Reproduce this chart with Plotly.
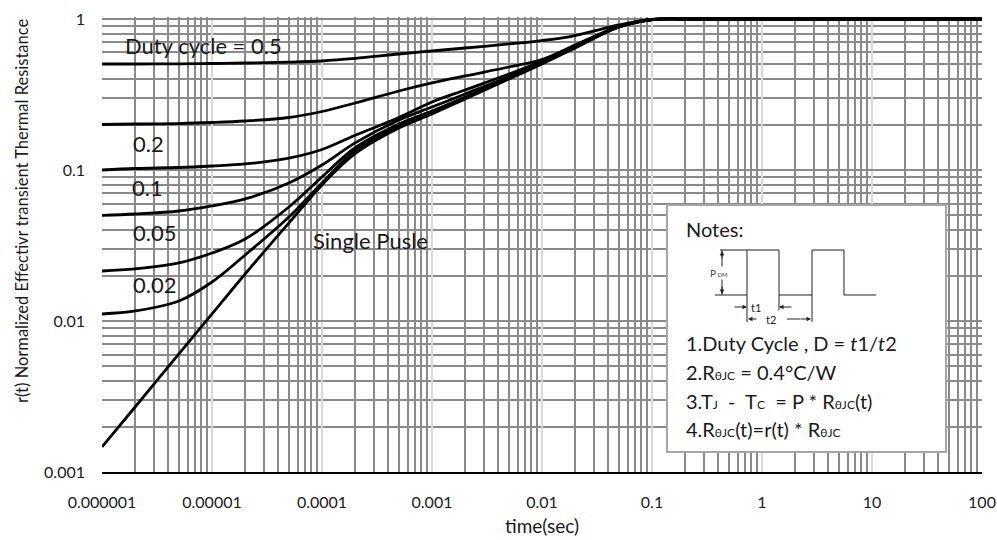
import plotly.graph_objects as go

# ---------------- data ----------------
time_s = [1e-6, 2e-6, 5e-6, 1e-5, 2e-5, 5e-5, 1e-4, 2e-4, 5e-4, 1e-3,
          2e-3, 5e-3, 1e-2, 2e-2, 5e-2, 1e-1, 2e-1, 1, 10, 100]

r_d050 = [0.5035, 0.5035, 0.5050, 0.5074, 0.5113, 0.5176, 0.5271, 0.5477, 0.5864, 0.6139,
          0.6426, 0.6832, 0.7201, 0.7774, 0.9126, 0.9924, 1, 1, 1, 1]
r_d020 = [0.2001, 0.2016, 0.2031, 0.2063, 0.2111, 0.2227, 0.2440, 0.2778, 0.3336, 0.3770,
          0.4195, 0.4809, 0.5393, 0.6728, 0.8920, 0.9924, 1, 1, 1, 1]
r_d010 = [0.1000, 0.1023, 0.1039, 0.1063, 0.1096, 0.1198, 0.1366, 0.1697, 0.2224, 0.2820,
          0.3387, 0.4323, 0.5271, 0.6677, 0.8920, 0.9924, 1, 1, 1, 1]
r_d005 = [0.0500, 0.0511, 0.0535, 0.0578, 0.0643, 0.0820, 0.1079, 0.1512, 0.2143, 0.2614,
          0.3186, 0.4161, 0.5191, 0.6626, 0.8919, 0.9924, 1, 1, 1, 1]
r_d002 = [0.02144, 0.02211, 0.02422, 0.02820, 0.03491, 0.05688, 0.0899, 0.1404, 0.2017, 0.2459,
          0.3044, 0.4067, 0.5113, 0.6525, 0.8850, 0.9924, 1, 1, 1, 1]
r_d001 = [0.01113, 0.01165, 0.01357, 0.01813, 0.02736, 0.04884, 0.0820, 0.1342, 0.1956, 0.2403,
          0.2998, 0.4036, 0.5074, 0.6476, 0.8850, 0.9924, 1, 1, 1, 1]
r_single = [0.001466, 0.002694, 0.00605, 0.01113, 0.02048, 0.04457, 0.0796, 0.1282, 0.1896, 0.2349,
            0.2953, 0.4005, 0.5035, 0.6426, 0.8851, 0.9924, 1, 1, 1, 1]

series = [("D=0.5", r_d050), ("D=0.2", r_d020), ("D=0.1", r_d010),
          ("D=0.05", r_d005), ("D=0.02", r_d002), ("D=0.01", r_d001),
          ("Single Pulse", r_single)]

x_tickvals = [1e-6, 1e-5, 1e-4, 1e-3, 1e-2, 1e-1, 1, 10, 100]
x_ticktext = ["0.000001", "0.00001", "0.0001", "0.001", "0.01", "0.1", "1", "10", "100"]
y_tickvals = [0.001, 0.01, 0.1, 1]
y_ticktext = ["0.001", "0.01", "0.1", "1"]

curve_labels = [("Duty cycle = 0.5", 123, 45), ("0.2", 131, 143), ("0.1", 130, 187),
                ("0.05", 131, 232), ("0.02", 131, 284), ("Single Pusle", 311, 240)]

# ---------------- layout geometry ----------------
W, H = 997, 540
L, R, T, B = 102, 15, 17, 68
PW, PH = W - L - R, H - T - B
FONT = "Lato, Carlito, 'Open Sans', sans-serif"
TXT = "#1a1a1a"


def px(x):
    return (x - L) / PW


def py(y):
    return (H - B - y) / PH


minor_x = [m * 10 ** e for e in range(-6, 2) for m in range(2, 10)]
minor_y = [m * 10 ** e for e in range(-3, 0) for m in range(2, 10)]

fig = go.Figure()
for name, vals in series:
    fig.add_trace(go.Scatter(x=time_s, y=vals, mode="lines", name=name,
                             line=dict(color="black", width=2.8, shape="spline", smoothing=1.0),
                             showlegend=False, hoverinfo="skip"))

GRID_DARK = "#8a8a8a"
fig.update_xaxes(type="log", range=[-6, 2], tickmode="array", tickvals=x_tickvals,
                 ticktext=x_ticktext, ticks="", showgrid=True, gridcolor="#d9d9d9",
                 gridwidth=2, showline=True, linecolor="black", linewidth=2,
                 zeroline=False, ticklabelstandoff=15, automargin=False,
                 tickfont=dict(family=FONT, size=16, color=TXT),
                 minor=dict(tickmode="array", tickvals=minor_x, showgrid=True,
                            gridcolor=GRID_DARK, gridwidth=2, ticks=""))
fig.update_yaxes(type="log", range=[-3, 0.0132], tickmode="array", tickvals=y_tickvals,
                 ticktext=y_ticktext, ticks="", showgrid=True, gridcolor=GRID_DARK,
                 gridwidth=2, showline=False, zeroline=False, ticklabelstandoff=16,
                 automargin=False,
                 tickfont=dict(family=FONT, size=16, color=TXT),
                 minor=dict(tickmode="array", tickvals=minor_y, showgrid=True,
                            gridcolor=GRID_DARK, gridwidth=2, ticks=""))

ann = []
for text, x0, yc in curve_labels:
    ann.append(dict(text=text, x=px(x0), y=py(yc), xref="paper", yref="paper",
                    xanchor="left", yanchor="middle", showarrow=False,
                    font=dict(family=FONT, size=22, color=TXT)))

# axis titles
ann.append(dict(text="r(t) Normalized Effectivr transient Thermal Resistance",
                x=px(22), y=py(211), xref="paper", yref="paper", textangle=-90,
                showarrow=False, xanchor="center", yanchor="middle",
                font=dict(family=FONT, size=16.5, color=TXT)))
ann.append(dict(text="time(sec)", x=px(542), y=py(525), xref="paper", yref="paper",
                showarrow=False, xanchor="center", yanchor="middle",
                font=dict(family=FONT, size=19, color=TXT)))

# ---------------- notes box ----------------
shapes = [dict(type="rect", xref="paper", yref="paper", x0=px(667), x1=px(946),
               y0=py(452), y1=py(205), fillcolor="white",
               line=dict(color="#a6a6a6", width=2), layer="above")]


def path(points):
    return "M " + " L ".join(f"{px(a):.5f},{py(b):.5f}" for a, b in points)


pulse = [(715, 295), (747, 295), (747, 250), (779, 250), (779, 295), (812, 295),
         (812, 250), (844, 250), (844, 295), (876, 295)]
DL = dict(color="#222", width=1)
shapes.append(dict(type="path", xref="paper", yref="paper", path=path(pulse),
                   line=DL, layer="above"))
for seg in [[(720, 250), (747, 250)], [(747, 295), (747, 322)], [(779, 295), (779, 310)],
            [(812, 295), (812, 322)], [(722, 250), (722, 295)],
            [(787, 319), (800, 319)]]:
    shapes.append(dict(type="path", xref="paper", yref="paper", path=path(seg),
                       line=DL, layer="above"))

SMALL = dict(family=FONT, size=11, color="#222")
ann.append(dict(text="P<span style='font-size:6px'> DM</span>", x=px(729), y=py(273),
                xref="paper", yref="paper", showarrow=False, bgcolor="white",
                font=dict(family=FONT, size=10, color="#444"), borderpad=0))
for (xt, yt, ax, ay) in [(722, 251, 0, 9), (722, 294, 0, -9),
                         (747, 307, -14, 0), (779, 307, 14, 0),
                         (748, 319, 10, 0), (811, 319, -12, 0)]:
    ann.append(dict(text="", x=px(xt), y=py(yt), xref="paper", yref="paper",
                    ax=ax, ay=ay, showarrow=True, arrowhead=2, arrowsize=0.9,
                    arrowwidth=1, arrowcolor="#222"))
ann.append(dict(text="t1", x=px(763), y=py(307), xref="paper", yref="paper",
                showarrow=False, font=SMALL))
ann.append(dict(text="t2", x=px(778), y=py(319), xref="paper", yref="paper",
                showarrow=False, font=SMALL))

SUB = "<span style='font-size:12px'>{}</span>"
notes = [("Notes:", 229),
         ("1.Duty Cycle , D = <i>t</i>1/<i>t</i>2", 343),
         ("2.R" + SUB.format("θJC") + " = 0.4°C/W", 372),
         ("3.T" + SUB.format("J") + "  -  T" + SUB.format("C") + "  = P * R"
          + SUB.format("θJC") + "(t)", 401),
         ("4.R" + SUB.format("θJC") + "(t)=r(t) * R" + SUB.format("θJC"), 429)]
for text, yc in notes:
    ann.append(dict(text=text, x=px(684), y=py(yc), xref="paper", yref="paper",
                    xanchor="left", yanchor="middle", showarrow=False,
                    font=dict(family=FONT, size=20, color=TXT)))

fig.update_layout(width=W, height=H, margin=dict(l=L, r=R, t=T, b=B, autoexpand=False),
                  paper_bgcolor="white", plot_bgcolor="white",
                  annotations=ann, shapes=shapes, showlegend=False)

fig.write_html("out.html")
